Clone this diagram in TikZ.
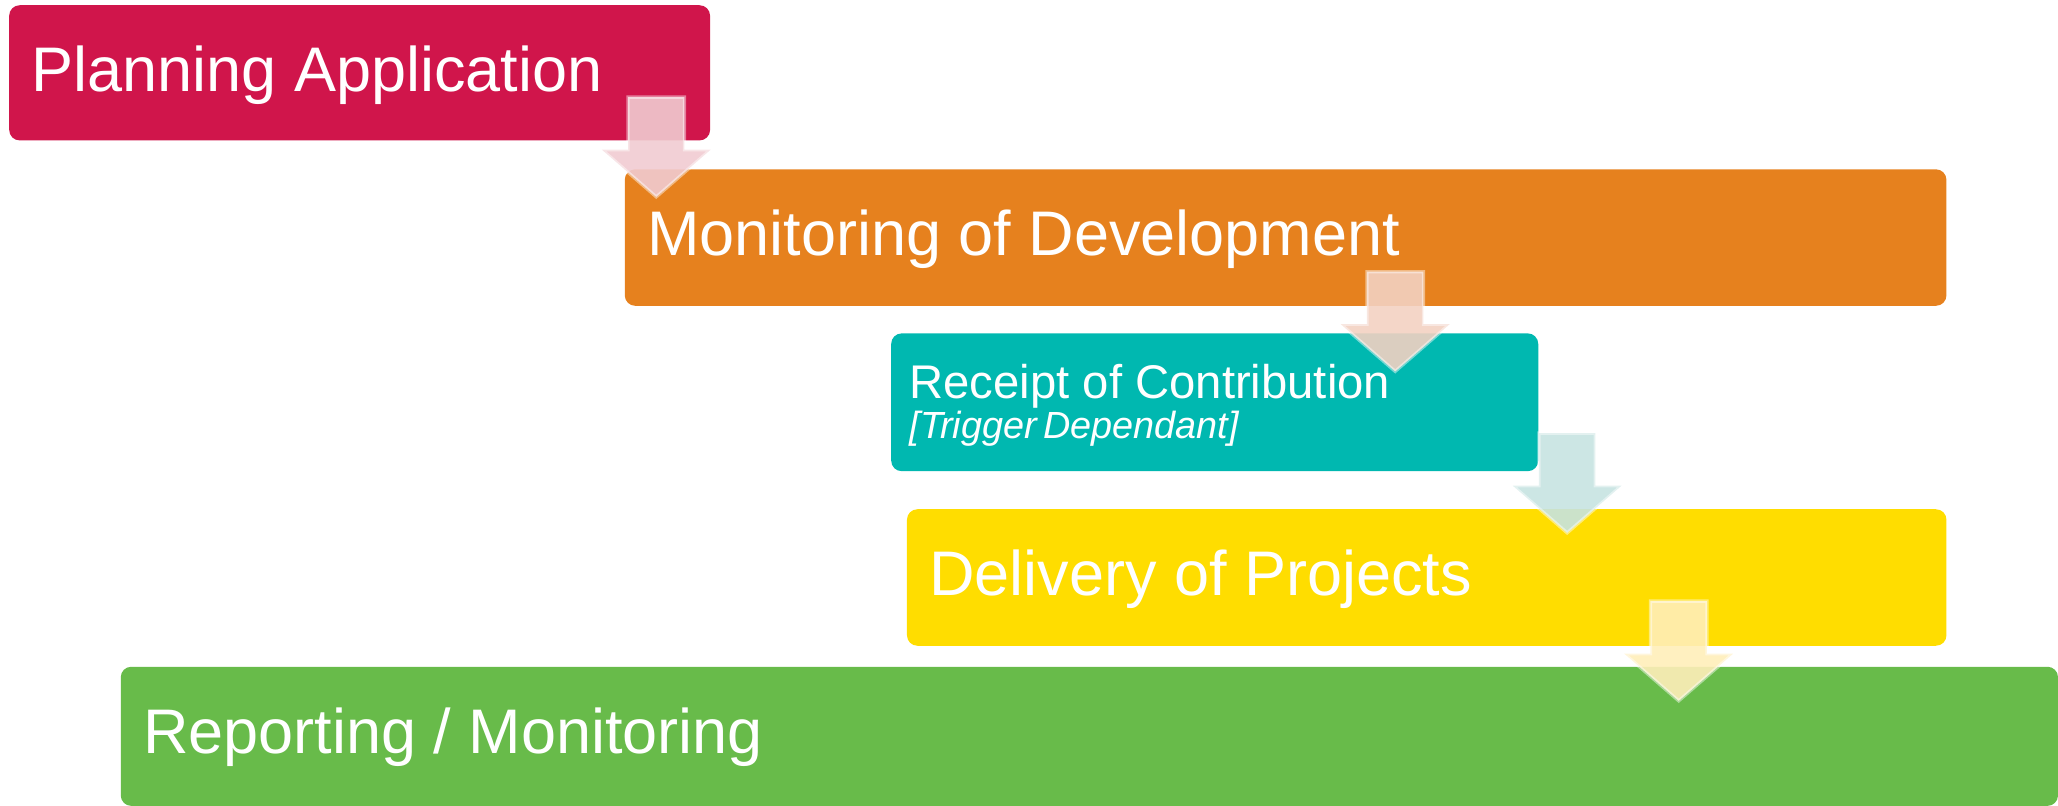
\documentclass[tikz,border=0pt]{standalone}
\usepackage{fontspec}
\setmainfont{Liberation Sans}
\usetikzlibrary{calc}
\definecolor{cCrimson}{RGB}{208,21,75}
\definecolor{cOrange}{RGB}{230,129,30}
\definecolor{cTeal}{RGB}{0,184,176}
\definecolor{cYellow}{RGB}{255,221,0}
\definecolor{cGreen}{RGB}{104,187,74}
\definecolor{aCrimson}{RGB}{241,203,209}
\definecolor{aOrange}{RGB}{243,209,194}
\definecolor{aTeal}{RGB}{198,227,225}
\definecolor{aYellow}{RGB}{255,238,185}
\tikzset{
  stepbox/.style={draw=none, rounded corners=4pt, anchor=north west, inner sep=0pt, outer sep=0pt},
  steptext/.style={text=white, anchor=base west, inner sep=0pt, outer sep=0pt, font=\fontsize{24pt}{28pt}\selectfont},
  blockarrow/.style={fill opacity=0.9, draw=white, draw opacity=0.45, line width=1.25pt, line join=miter}
}
\newcommand\downblock[3]{%
  \path[blockarrow, fill=#3]
    ({#1-21.5},{#2}) -- ({#1+21.5},{#2}) -- ({#1+21.5},{#2+40}) -- ({#1+41.5},{#2+40})
    -- ({#1},{#2+76}) -- ({#1-41.5},{#2+40}) -- ({#1-21.5},{#2+40}) -- cycle;}
\begin{document}
\begin{tikzpicture}[x=0.5pt, y=-0.5pt]
\useasboundingbox (0,0) rectangle (1568,614);
% boxes
\node[stepbox, fill=cCrimson, minimum width=534*0.5pt, minimum height=103*0.5pt] (b1) at (7,4) {};
\node[stepbox, fill=cOrange, minimum width=1007*0.5pt, minimum height=104*0.5pt] (b2) at (476,129) {};
\node[stepbox, fill=cTeal, minimum width=493*0.5pt, minimum height=105*0.5pt] (b3) at (679,254) {};
\node[stepbox, fill=cYellow, minimum width=792*0.5pt, minimum height=104*0.5pt] (b4) at (691,388) {};
\node[stepbox, fill=cGreen, minimum width=1476*0.5pt, minimum height=106*0.5pt] (b5) at (92,508) {};
% texts
\node[steptext] (t1) at ($(b1.north west)+(17,66)$) {Planning Application};
\node[steptext] (t2) at ($(b2.north west)+(17,66)$) {Monitoring of Development};
\node[steptext, font=\fontsize{18pt}{21pt}\selectfont] (t3) at ($(b3.north west)+(14,49.5)$) {Receipt of Contribution};
\node[steptext, font=\fontsize{14.4pt}{17pt}\selectfont\itshape] (t3b) at ($(b3.north west)+(14,80)$) {[Trigger\kern0.17em Dependant]};
\node[steptext] (t4) at ($(b4.north west)+(17,66)$) {Delivery of Projects};
\node[steptext] (t5) at ($(b5.north west)+(17,66)$) {Reporting / Monitoring};
% arrows
\downblock{500}{74}{aCrimson}
\downblock{1063}{207}{aOrange}
\downblock{1194}{330}{aTeal}
\downblock{1279}{458}{aYellow}
\end{tikzpicture}
\end{document}
